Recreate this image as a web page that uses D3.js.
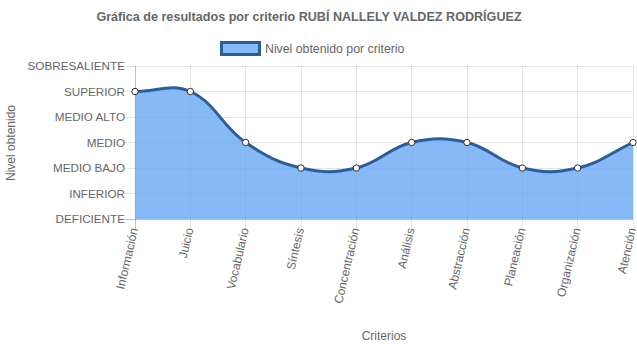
<!DOCTYPE html>
<html><head><meta charset="utf-8">
<script src="https://cdn.jsdelivr.net/npm/d3@7/dist/d3.min.js"></script>
<style>
body{margin:0;background:#fff;}
text{font-family:"Liberation Sans",Arial,Helvetica,sans-serif;fill:#666;}
</style></head>
<body><svg id="c" width="637" height="348"></svg>
<script>
const title = "Gráfica de resultados por criterio RUBÍ NALLELY VALDEZ RODRÍGUEZ";
const seriesName = "Nivel obtenido por criterio";
const categories = ["Información","Juicio","Vocabulario","Síntesis","Concentración","Análisis","Abstracción","Planeación","Organización","Atención"];
const levels = ["DEFICIENTE","INFERIOR","MEDIO BAJO","MEDIO","MEDIO ALTO","SUPERIOR","SOBRESALIENTE"];
const values = [5,5,3,2,2,3,3,2,2,3];
const xTitle = "Criterios";
const yTitle = "Nivel obtenido";

const svg = d3.select("#c");
const L = 135, R = 633, T = 66, B = 219;
const x = d3.scalePoint().domain(categories).range([L, R]).padding(0);
const y = d3.scaleLinear().domain([0, levels.length - 1]).range([B, T]);

// grid
const grid = svg.append("g");
levels.forEach((lv, i) => {
  grid.append("line").attr("x1", L - 10).attr("x2", R).attr("y1", y(i)).attr("y2", y(i))
    .attr("stroke", i === 0 ? "rgba(0,0,0,0.25)" : "rgba(0,0,0,0.1)").attr("stroke-width", 1)
    .attr("shape-rendering", "crispEdges");
});
categories.forEach((c, i) => {
  grid.append("line").attr("x1", x(c)).attr("x2", x(c)).attr("y1", T).attr("y2", B + 10)
    .attr("stroke", i === 0 ? "rgba(0,0,0,0.25)" : "rgba(0,0,0,0.1)").attr("stroke-width", 1)
    .attr("shape-rendering", "crispEdges");
});

// Chart.js-like spline
const pts = categories.map((c, i) => ({ x: x(c), y: y(values[i]) }));
const t = 0.4;
pts.forEach((p, i) => {
  const prev = pts[i - 1] || p, next = pts[i + 1] || p;
  const d01 = Math.hypot(p.x - prev.x, p.y - prev.y), d12 = Math.hypot(next.x - p.x, next.y - p.y);
  let s01 = d01 / (d01 + d12), s12 = d12 / (d01 + d12);
  if (isNaN(s01)) s01 = 0; if (isNaN(s12)) s12 = 0;
  const fa = t * s01, fb = t * s12;
  p.cpPx = p.x - fa * (next.x - prev.x); p.cpPy = p.y - fa * (next.y - prev.y);
  p.cpNx = p.x + fb * (next.x - prev.x); p.cpNy = p.y + fb * (next.y - prev.y);
  p.cpPy = Math.max(T, Math.min(B, p.cpPy)); p.cpNy = Math.max(T, Math.min(B, p.cpNy));
});
function linePath(ctx) {
  ctx.moveTo(pts[0].x, pts[0].y);
  for (let i = 1; i < pts.length; i++) {
    const a = pts[i - 1], b = pts[i];
    ctx.bezierCurveTo(a.cpNx, a.cpNy, b.cpPx, b.cpPy, b.x, b.y);
  }
  return ctx;
}
const lp = linePath(d3.path()).toString();
const ap = d3.path(); linePath(ap); ap.lineTo(pts[pts.length - 1].x, y(0)); ap.lineTo(pts[0].x, y(0)); ap.closePath();
svg.append("path").attr("d", ap.toString()).attr("fill", "rgba(104,168,243,0.8)");
svg.append("path").attr("d", lp).attr("fill", "none").attr("stroke", "#2c5f9a").attr("stroke-width", 3);
svg.append("g").selectAll("circle").data(pts).join("circle")
  .attr("cx", d => d.x).attr("cy", d => d.y).attr("r", 3.2)
  .attr("fill", "#fff").attr("stroke", "#2c2c2c").attr("stroke-width", 1);

// y labels
svg.append("g").selectAll("text").data(levels).join("text")
  .attr("x", L - 10).attr("y", (d, i) => y(i)).attr("dy", "0.35em")
  .attr("text-anchor", "end").attr("font-size", 11.7).text(d => d);

// x labels
svg.append("g").selectAll("text").data(categories).join("text")
  .attr("transform", d => `translate(${x(d) - 1},${B + 9}) rotate(-77)`)
  .attr("dy", "0.35em").attr("text-anchor", "end").attr("font-size", 12).text(d => d);

// titles
svg.append("text").attr("x", 309).attr("y", 21).attr("text-anchor", "middle")
  .attr("font-size", 12.6).attr("font-weight", "bold").text(title);
svg.append("rect").attr("x", 221.5).attr("y", 42.5).attr("width", 38).attr("height", 12)
  .attr("fill", "rgba(104,168,243,0.8)").attr("stroke", "#2c5f9a").attr("stroke-width", 3);
svg.append("text").attr("x", 265).attr("y", 53).attr("font-size", 12.3).text(seriesName);
svg.append("text").attr("x", 384).attr("y", 340).attr("text-anchor", "middle").attr("font-size", 12).text(xTitle);
svg.append("text").attr("transform", "translate(15,143) rotate(-90)").attr("text-anchor", "middle")
  .attr("font-size", 12).text(yTitle);
</script></body></html>
